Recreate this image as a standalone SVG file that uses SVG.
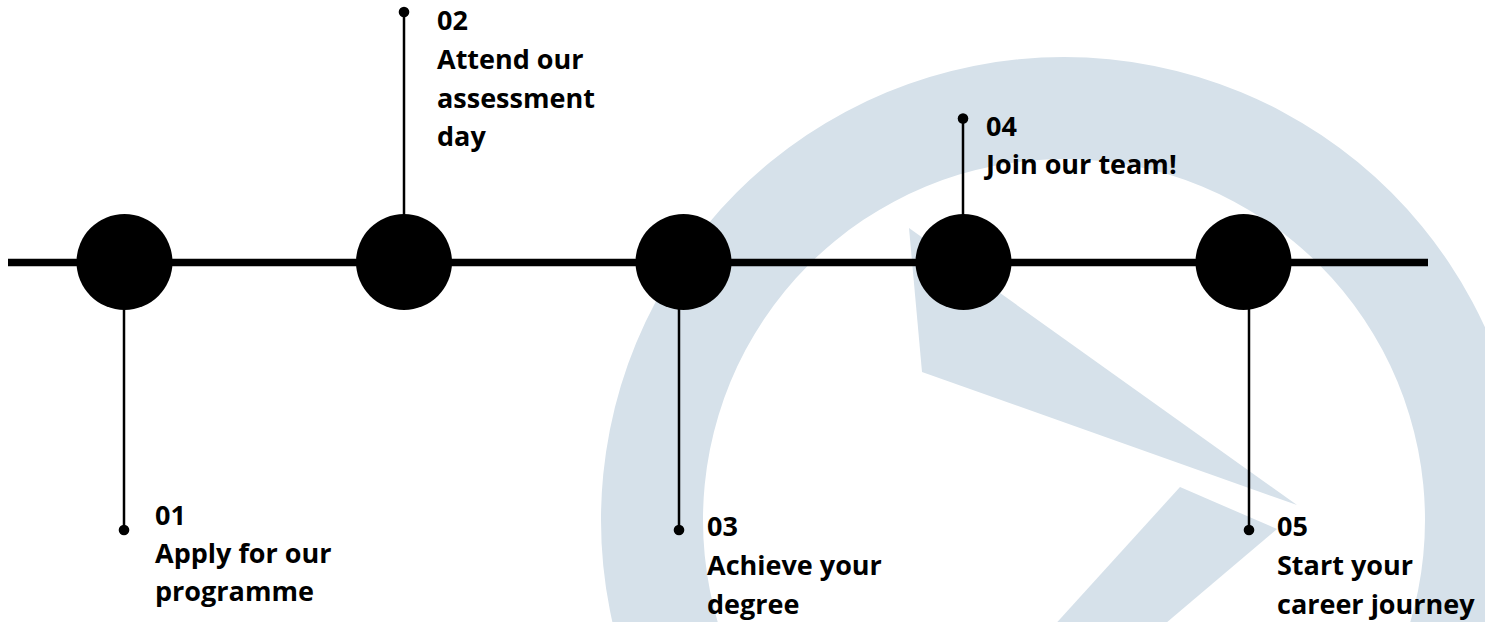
<svg xmlns="http://www.w3.org/2000/svg" width="1485" height="622" viewBox="0 0 1485 622">
<style>
.bg{fill:#d6e1ea;stroke:none}
.main{stroke:#000;stroke-width:7.5;fill:none}
.lead{stroke:#000;stroke-width:2.5;fill:none}
.hub{fill:#000}
.dot{fill:#000}
.lbl{font-family:"Open Sans","Noto Sans","Liberation Sans",sans-serif;font-weight:700;font-size:27px;fill:#000}
</style>
<rect width="1485" height="622" fill="#fff"/>
<g id="background">
<path class="bg" fill-rule="evenodd" d="M601,520 a463,463 0 1,0 926,0 a463,463 0 1,0 -926,0 Z M703,520 a361,361 0 1,0 722,0 a361,361 0 1,0 -722,0 Z"/>
<polygon class="bg" points="909,228 922,372 1297,505"/>
<polygon class="bg" points="1180,487 1277,529 1146,640 1041,640"/>
</g>
<g id="connectors">
<line class="main" x1="8" y1="262.5" x2="1428" y2="262.5"/>
<line class="lead" x1="124" y1="300" x2="124" y2="530"/>
<line class="lead" x1="404" y1="12" x2="404" y2="225"/>
<line class="lead" x1="679" y1="300" x2="679" y2="530"/>
<line class="lead" x1="963" y1="118" x2="963" y2="225"/>
<line class="lead" x1="1249" y1="300" x2="1249" y2="530"/>
</g>
<g id="step01">
<circle class="hub" cx="124.5" cy="262" r="48"/>
<circle class="dot" cx="124" cy="530" r="5.3"/>
<text class="lbl" x="155" y="525">01</text>
<text class="lbl" x="155" y="563">Apply for our</text>
<text class="lbl" x="155" y="601">programme</text>
</g>
<g id="step02">
<circle class="hub" cx="404" cy="262" r="48"/>
<circle class="dot" cx="404" cy="12" r="5.3"/>
<text class="lbl" x="437" y="30">02</text>
<text class="lbl" x="437" y="68.5">Attend our</text>
<text class="lbl" x="437" y="107.5">assessment</text>
<text class="lbl" x="437" y="146">day</text>
</g>
<g id="step03">
<circle class="hub" cx="683.5" cy="262" r="48"/>
<circle class="dot" cx="679" cy="530" r="5.3"/>
<text class="lbl" x="707" y="536">03</text>
<text class="lbl" x="707" y="575">Achieve your</text>
<text class="lbl" x="707" y="614">degree</text>
</g>
<g id="step04">
<circle class="hub" cx="963.5" cy="262" r="48"/>
<circle class="dot" cx="963" cy="118.5" r="5.3"/>
<text class="lbl" x="986" y="136">04</text>
<text class="lbl" x="986" y="173.5">Join our team!</text>
</g>
<g id="step05">
<circle class="hub" cx="1243.5" cy="262" r="48"/>
<circle class="dot" cx="1249" cy="530" r="5.3"/>
<text class="lbl" x="1277" y="536">05</text>
<text class="lbl" x="1277" y="575">Start your</text>
<text class="lbl" x="1277" y="614">career journey</text>
</g>
</svg>
